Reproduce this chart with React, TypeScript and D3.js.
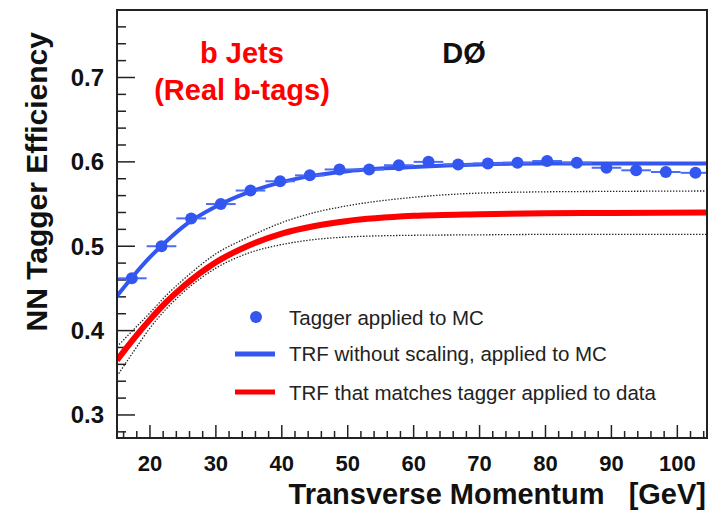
import React from "react";
import { scaleLinear, line, curveMonotoneX, range } from "d3";

// binned tagger efficiency (MC), bin width 4.5 GeV starting at 15 GeV
const binCenters = [
  17.25, 21.75, 26.25, 30.75, 35.25, 39.75, 44.25, 48.75, 53.25, 57.75,
  62.25, 66.75, 71.25, 75.75, 80.25, 84.75, 89.25, 93.75, 98.25, 102.75,
];
const taggerMC = [
  0.462, 0.5, 0.533, 0.55, 0.566, 0.577, 0.584, 0.591, 0.591, 0.596,
  0.6, 0.597, 0.598, 0.599, 0.601, 0.599, 0.593, 0.59, 0.588, 0.587,
];
const binHalfWidth = 2.25;

// TRF curves
const curveX = [15, 17.5, 20, 22.5, 25, 30, 35, 40, 45, 50, 60, 70, 80, 90, 104.5];
const trfNoScaling = [
  0.441, 0.465, 0.487, 0.506, 0.523, 0.547, 0.564, 0.576, 0.584, 0.589, 0.594, 0.597, 0.598, 0.598, 0.598,
];
const trfData = [
  0.365, 0.39, 0.413, 0.434, 0.452, 0.481, 0.501, 0.515, 0.524, 0.53, 0.536, 0.538, 0.539, 0.5395, 0.54,
];
const trfDataUpper = [
  0.381, 0.401, 0.421, 0.442, 0.46, 0.491, 0.511, 0.528, 0.54, 0.548, 0.558, 0.563, 0.5645, 0.565, 0.5655,
];
const trfDataLower = [
  0.346, 0.375, 0.403, 0.426, 0.445, 0.474, 0.492, 0.502, 0.508, 0.511, 0.513, 0.5135, 0.514, 0.514, 0.514,
];

const xTicks = [20, 30, 40, 50, 60, 70, 80, 90, 100];
const yTicks = [0.3, 0.4, 0.5, 0.6, 0.7];

const legendLabels = [
  "Tagger applied to MC",
  "TRF without scaling, applied to MC",
  "TRF that matches tagger applied to data",
];

const W = 711;
const H = 517;
const frame = { left: 117, right: 707, top: 10, bottom: 438 };

const BLUE = "#3356f0";
const RED = "#ff0000";
const FONT = "'Liberation Sans', Arial, Helvetica, sans-serif";

export default function App() {
  const x = scaleLinear().domain([15, 104.5]).range([frame.left, frame.right]);
  const y = scaleLinear().domain([0.2727, 0.78]).range([frame.bottom, frame.top]);

  const mkLine = (vals: number[]) =>
    line<number>()
      .x((_, i) => x(curveX[i]))
      .y((d) => y(d))
      .curve(curveMonotoneX)(vals) || "";

  const xMinor = range(16, 105, 2);
  const yMinor = range(0.28, 0.781, 0.02);

  return (
    <svg
      width={W}
      height={H}
      style={{ position: "absolute", left: 0, top: 0, background: "#fff", fontFamily: FONT }}
    >
      <defs>
        <clipPath id="plot-clip">
          <rect
            x={frame.left}
            y={frame.top}
            width={frame.right - frame.left}
            height={frame.bottom - frame.top}
          />
        </clipPath>
      </defs>

      {/* ticks */}
      <g stroke="#222" strokeWidth={1.5}>
        {xMinor.map((v) => {
          const major = v % 10 === 0;
          return (
            <line
              key={"xm" + v}
              x1={x(v)}
              x2={x(v)}
              y1={frame.bottom}
              y2={frame.bottom - (major ? 13 : 7)}
            />
          );
        })}
        {yMinor.map((v) => {
          const major = Math.abs(v * 10 - Math.round(v * 10)) < 1e-6;
          return (
            <line
              key={"ym" + v.toFixed(2)}
              x1={frame.left}
              x2={frame.left + (major ? 18 : 9)}
              y1={y(v)}
              y2={y(v)}
            />
          );
        })}
      </g>

      <g clipPath="url(#plot-clip)">
        {/* dotted band */}
        {[trfDataUpper, trfDataLower].map((vals, i) => (
          <path
            key={"band" + i}
            d={mkLine(vals)}
            fill="none"
            stroke="#222"
            strokeWidth={1.3}
            strokeDasharray="1.4 1.6"
          />
        ))}
        <path d={mkLine(trfData)} fill="none" stroke={RED} strokeWidth={6} />
        <path d={mkLine(trfNoScaling)} fill="none" stroke={BLUE} strokeWidth={4} />

        {/* MC points with bin-width bars */}
        {binCenters.map((c, i) => (
          <g key={"pt" + i}>
            <line
              x1={x(c - binHalfWidth)}
              x2={x(c + binHalfWidth)}
              y1={y(taggerMC[i])}
              y2={y(taggerMC[i])}
              stroke="#4b6cf7"
              strokeWidth={2}
            />
            <circle cx={x(c)} cy={y(taggerMC[i])} r={6} fill={BLUE} />
          </g>
        ))}
      </g>

      {/* frame */}
      <rect
        x={frame.left}
        y={frame.top}
        width={frame.right - frame.left}
        height={frame.bottom - frame.top}
        fill="none"
        stroke="#222"
        strokeWidth={2}
      />

      {/* tick labels */}
      <g fontWeight="bold" fill="#111">
        {xTicks.map((v) => (
          <text key={"xl" + v} x={x(v)} y={471} textAnchor="middle" fontSize={22}>
            {v}
          </text>
        ))}
        {yTicks.map((v) => (
          <text key={"yl" + v} x={104} y={y(v) + 8.5} textAnchor="end" fontSize={24}>
            {v.toFixed(1)}
          </text>
        ))}
      </g>

      {/* axis titles */}
      <text
        x={706}
        y={504}
        textAnchor="end"
        fontWeight="bold"
        fontSize={29}
        fill="#111"
        style={{ whiteSpace: "pre" }}
      >
        {"Transverse Momentum   [GeV]"}
      </text>
      <text
        transform="translate(47,32) rotate(-90)"
        textAnchor="end"
        fontWeight="bold"
        fontSize={30}
        fill="#111"
      >
        NN Tagger Efficiency
      </text>

      {/* annotations */}
      <g fontWeight="bold" fontSize={29} textAnchor="middle">
        <text x={242} y={63} fill={RED}>
          b Jets
        </text>
        <text x={242} y={100} fill={RED}>
          (Real b-tags)
        </text>
        <text x={464} y={63} fill="#111">
          DØ
        </text>
      </g>

      {/* legend */}
      <g fontSize={20.5} fill="#222">
        <circle cx={256} cy={317} r={6} fill={BLUE} />
        <text x={289} y={324.5}>
          {legendLabels[0]}
        </text>
        <line x1={235} x2={275} y1={354} y2={354} stroke={BLUE} strokeWidth={5} />
        <text x={289} y={361}>
          {legendLabels[1]}
        </text>
        <line x1={235} x2={275} y1={392} y2={392} stroke={RED} strokeWidth={5} />
        <text x={289} y={399.5}>
          {legendLabels[2]}
        </text>
      </g>
    </svg>
  );
}
